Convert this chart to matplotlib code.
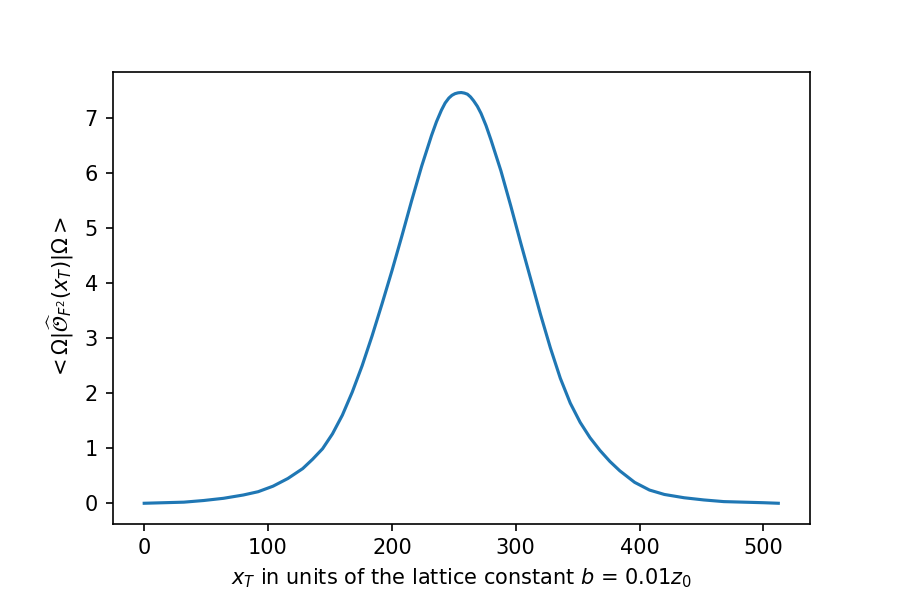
import matplotlib
matplotlib.use("Agg")
import matplotlib.pyplot as plt
import numpy as np

# position along the lattice
x_T = [0, 16, 32, 48, 64, 80, 92, 104, 116, 128, 136, 144, 152, 160, 168,
       176, 184, 192, 200, 208, 216, 224, 232, 236, 240, 243, 246, 248.5,
       251, 253.5, 256, 258.5, 261, 263.5, 266, 269, 272, 276, 280, 288,
       296, 304, 312, 320, 328, 336, 344, 352, 360, 368, 376, 384, 396, 408,
       420, 436, 452, 468, 484, 500, 512]

# expectation value of the operator at each point
expval = [0.00, 0.01, 0.02, 0.05, 0.09, 0.15, 0.21, 0.31, 0.45, 0.63, 0.80,
          0.99, 1.26, 1.60, 2.02, 2.50, 3.04, 3.62, 4.22, 4.85, 5.50, 6.12,
          6.68, 6.93, 7.14, 7.27, 7.36, 7.41, 7.44, 7.455, 7.46, 7.45, 7.43,
          7.38, 7.31, 7.21, 7.08, 6.86, 6.60, 6.04, 5.40, 4.73, 4.08, 3.43,
          2.82, 2.27, 1.82, 1.47, 1.19, 0.96, 0.76, 0.59, 0.38, 0.24, 0.16,
          0.10, 0.06, 0.03, 0.02, 0.01, 0.00]

fig = plt.figure(figsize=(6, 4), dpi=150)
plt.subplots_adjust(bottom=0.127)
plt.plot(x_T, expval)
plt.xlabel(r"$x_T$ in units of the lattice constant $b$ = $0.01z_0$")
plt.ylabel(r"$<\Omega|\widehat{\mathcal{O}}_{F^2}(x_T)|\Omega>$")
plt.savefig("out.png", dpi=150)
